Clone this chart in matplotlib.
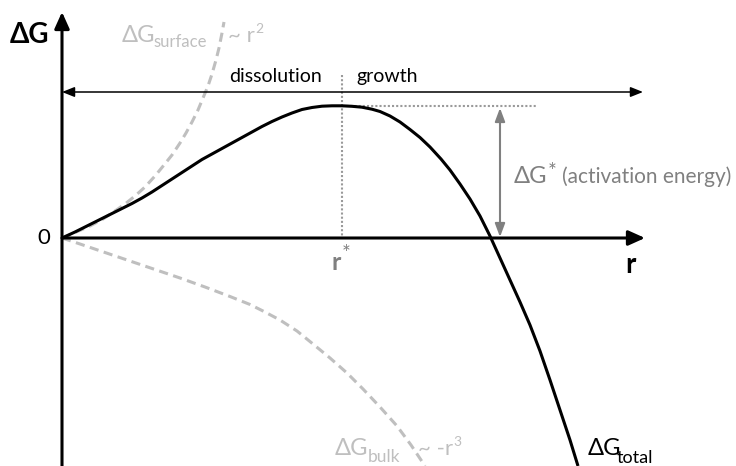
import matplotlib
matplotlib.use("Agg")
import matplotlib.pyplot as plt

plt.rcParams['font.family'] = ['Lato', 'DejaVu Sans']

# Free-energy curves of a nucleus versus its radius (schematic units)
r_total = [0, 13, 26, 38, 50, 60, 70, 80, 90, 100, 110, 120, 130, 140, 150, 160,
           170, 180, 190, 200, 210, 220, 230, 240, 250, 260, 270, 280, 290, 300,
           310, 318, 328, 338, 348, 358, 368, 379, 388, 398, 408, 418, 428, 438,
           448, 458, 468, 478, 488, 498, 508, 516]
g_total = [0, 6, 12.5, 18.5, 24.5, 29.5, 34.5, 40, 46, 52.5, 59, 65.5, 72, 78.5,
           84, 89.5, 95, 100.5, 106, 111.5, 116.5, 121, 125, 128.5, 130.5, 131.8,
           132.2, 132.2, 131.7, 130.8, 128.8, 126.5, 122, 116, 108.5, 100.5, 91,
           79, 68, 54, 39, 22, 2, -20, -42, -64, -87, -113, -142, -172, -202, -228]

r_surface = [0, 13, 28, 41, 53, 63, 73, 83, 93, 102, 110, 118, 124, 130, 136,
             141, 146, 150, 154, 157, 160, 162]
g_surface = [0, 5.5, 12, 19, 27, 34, 42, 51, 62, 73, 83, 95, 105, 116, 128,
             140, 152, 164, 178, 190, 205, 216]

r_bulk = [0, 18, 43, 68, 93, 118, 143, 168, 188, 201, 218, 235, 251, 268, 285,
          301, 318, 335, 349, 363]
g_bulk = [0, -6, -14.5, -23, -31.5, -40, -49, -58.5, -66.5, -73, -82, -93,
          -106, -120, -135, -151, -169, -188, -207, -228]

r_crit = 280      # critical radius r*
g_crit = 132      # activation energy ΔG*

BLACK = '#000000'
LIGHT = '#bfbfbf'
MID = '#808080'
DOT = '#9a9a9a'

fig = plt.figure(figsize=(7.36, 4.66), dpi=100)
ax = fig.add_axes([0, 0, 1, 1])
ax.set_xlim(-62, 674)
ax.set_ylim(-228, 238)
ax.axis('off')

def arrow(x0, y0, x1, y1, style, color, lw, hl, hw):
    ax.annotate('', xy=(x1, y1), xytext=(x0, y0),
                arrowprops=dict(arrowstyle=f'{style},head_length={hl},head_width={hw}',
                                color=color, lw=lw, shrinkA=0, shrinkB=0,
                                mutation_scale=10))

# coordinate axes
arrow(0, -240, 0, 226, '-|>', BLACK, 2.2, 1.0, 0.45)
arrow(0, 0, 583, 0, '-|>', BLACK, 2.2, 1.0, 0.45)

# dissolution / growth arrow
arrow(0, 146, 581, 146, '<|-|>', BLACK, 1.1, 0.75, 0.3)

# guides at the critical point
ax.plot([r_crit, r_crit], [163, 0], color=DOT, lw=1.5, linestyle=(0, (1, 1)))
ax.plot([r_crit, 475], [g_crit, g_crit], color=DOT, lw=1.5, linestyle=(0, (1, 1)))

# activation energy arrow
arrow(438, 1, 438, g_crit - 2, '<|-|>', MID, 1.5, 0.8, 0.3)

# component curves
ls, = ax.plot(r_surface, g_surface, color=LIGHT, lw=2.2)
ls.set_dashes([3, 1.8])
lb, = ax.plot(r_bulk, g_bulk, color=LIGHT, lw=2.2)
lb.set_dashes([3, 1.8])

# total curve
ax.plot(r_total, g_total, color=BLACK, lw=2.2, solid_capstyle='butt',
        solid_joinstyle='round')

# labels
ax.text(-32, 203, 'ΔG', fontsize=20, fontweight='bold', ha='center', va='center', color=BLACK)
ax.text(-18, 0, '0', fontsize=16, ha='center', va='center', color=BLACK)
ax.text(568, -35, 'r', fontsize=20, fontweight='bold', ha='center', va='baseline', color=BLACK)

ax.text(r_crit - 6, -32, 'r', fontsize=18, fontweight='bold', ha='center', va='baseline', color=MID)
ax.text(r_crit, -6, '*', fontsize=15, ha='left', va='top', color=MID)

ax.text(213, 156, 'dissolution', fontsize=14, ha='center', va='baseline', color=BLACK)
ax.text(325, 156, 'growth', fontsize=14, ha='center', va='baseline', color=BLACK)

ax.text(452, 55, 'ΔG', fontsize=17, ha='left', va='baseline', color=MID)
ax.text(486, 76, '*', fontsize=15, ha='left', va='top', color=MID)
ax.text(500, 55, '(activation energy)', fontsize=15, ha='left', va='baseline', color=MID)

ax.text(60, 196, 'ΔG', fontsize=17, ha='left', va='baseline', color=LIGHT)
ax.text(91, 191, 'surface', fontsize=12, ha='left', va='baseline', color=LIGHT)
ax.text(166, 196, '~ r', fontsize=16, ha='left', va='baseline', color=LIGHT)
ax.text(193, 205, '2', fontsize=10, ha='left', va='baseline', color=LIGHT)

ax.text(273, -217, 'ΔG', fontsize=17, ha='left', va='baseline', color=LIGHT)
ax.text(306, -224, 'bulk', fontsize=12.5, ha='left', va='baseline', color=LIGHT)
ax.text(356, -217, '~ -r', fontsize=16, ha='left', va='baseline', color=LIGHT)
ax.text(391, -208, '3', fontsize=10, ha='left', va='baseline', color=LIGHT)

ax.text(526, -217, 'ΔG', fontsize=17, ha='left', va='baseline', color=BLACK)
ax.text(555, -225, 'total', fontsize=13, ha='left', va='baseline', color=BLACK)

fig.savefig('out.png', dpi=100)
